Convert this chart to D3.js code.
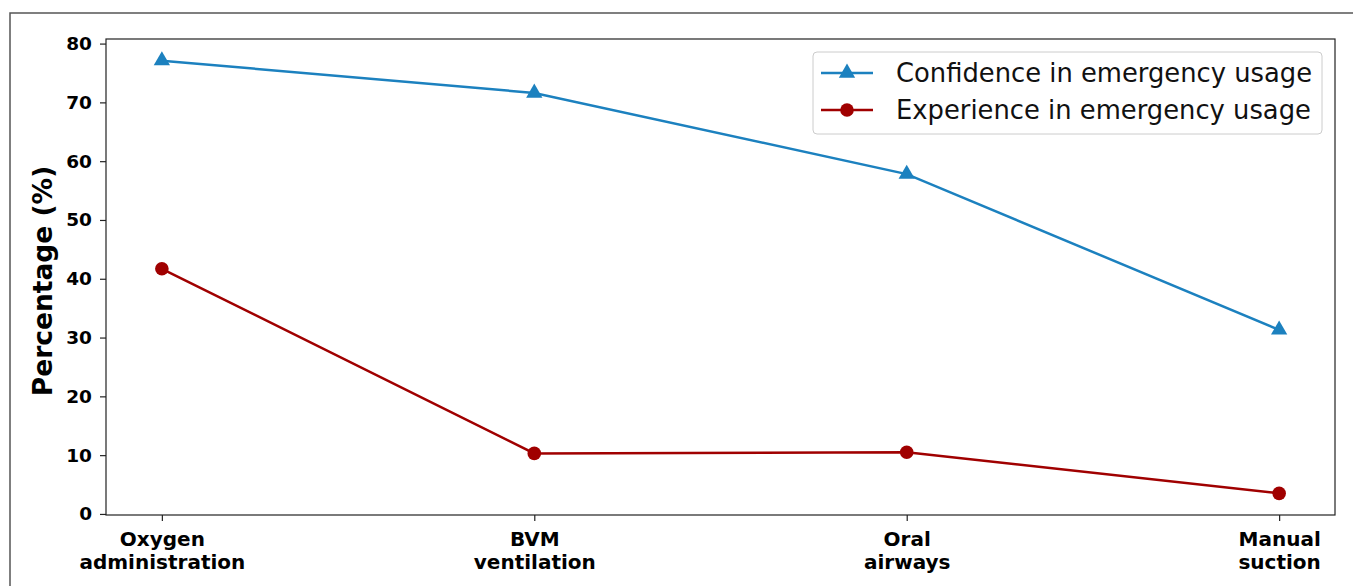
<!DOCTYPE html>
<html>
<head>
<meta charset="utf-8">
<script src="https://cdn.jsdelivr.net/npm/d3@7"></script>
<style>
  body { margin: 0; background: #fff; }
  svg text { font-family: "DejaVu Sans", sans-serif; }
</style>
</head>
<body>
<div id="chart"></div>
<script>
(function(){
// categories and series values (percent)
const categories = [["Oxygen", "administration"], ["BVM", "ventilation"], ["Oral", "airways"], ["Manual", "suction"]];
const confidence = [77.1, 71.6, 57.8, 31.3];
const experience = [41.7, 10.3, 10.5, 3.5];
const yTicks = [0, 10, 20, 30, 40, 50, 60, 70, 80];
const seriesNames = ["Confidence in emergency usage", "Experience in emergency usage"];

const width = 1353, height = 586;
const left = 106, right = 1335, top = 39, bottom = 515;
const blue = "#1c81bf", red = "#a00000";

const svg = d3.select("#chart").append("svg")
    .attr("width", width)
    .attr("height", height);

// outer frame
svg.append("rect")
    .attr("x", 10).attr("y", 13)
    .attr("width", 1400).attr("height", 700)
    .attr("fill", "none").attr("stroke", "#555").attr("stroke-width", 1.5);

// scales, with matplotlib-like 5% margins
const idx = d3.range(categories.length);
const x = d3.scaleLinear().domain([-0.15, categories.length - 1 + 0.15]).range([left, right]);
const allVals = confidence.concat(experience);
const yMin = d3.min(allVals), yMax = d3.max(allVals), pad = (yMax - yMin) * 0.05;
const y = d3.scaleLinear().domain([yMin - pad, yMax + pad]).range([bottom, top]);

// axes
const yAxis = svg.append("g")
    .attr("transform", `translate(${left},0)`)
    .call(d3.axisLeft(y).tickValues(yTicks).tickSize(6).tickPadding(8).tickFormat(d3.format("d")));
const xAxis = svg.append("g")
    .attr("transform", `translate(0,${bottom})`)
    .call(d3.axisBottom(x).tickValues(idx).tickSize(6).tickFormat(""));
[yAxis, xAxis].forEach(a => {
  a.select(".domain").remove();
  a.selectAll(".tick line").attr("stroke", "#222").attr("stroke-width", 1.2);
});
yAxis.selectAll(".tick text")
    .attr("font-size", 18.5).attr("font-weight", "bold").attr("fill", "#000");

// two-line x labels
xAxis.selectAll(".tick").each(function(d) {
  const t = d3.select(this).append("text")
      .attr("text-anchor", "middle")
      .attr("font-size", 20).attr("font-weight", "bold").attr("fill", "#000");
  categories[d].forEach((line, i) => {
    t.append("tspan").attr("x", 0).attr("y", 31 + i * 23).text(line);
  });
});

// axes box
svg.append("rect")
    .attr("x", left).attr("y", top)
    .attr("width", right - left).attr("height", bottom - top)
    .attr("fill", "none").attr("stroke", "#222").attr("stroke-width", 1.2);

// y label
svg.append("text")
    .attr("transform", `translate(52,${(top + bottom) / 2 + 4}) rotate(-90)`)
    .attr("text-anchor", "middle")
    .attr("font-size", 26.5).attr("font-weight", "bold")
    .text("Percentage (%)");

const line = d3.line().x((d, i) => x(i)).y(d => y(d));
const triangle = d3.symbol().type(d3.symbolTriangle).size(115);

// confidence series
svg.append("path").datum(confidence)
    .attr("d", line).attr("fill", "none").attr("stroke", blue).attr("stroke-width", 2.5);
svg.selectAll(".tri").data(confidence).join("path")
    .attr("class", "tri")
    .attr("transform", (d, i) => `translate(${x(i)},${y(d)})`)
    .attr("d", triangle).attr("fill", blue);

// experience series
svg.append("path").datum(experience)
    .attr("d", line).attr("fill", "none").attr("stroke", red).attr("stroke-width", 2.5);
svg.selectAll(".dot").data(experience).join("circle")
    .attr("class", "dot")
    .attr("cx", (d, i) => x(i)).attr("cy", d => y(d))
    .attr("r", 6.8).attr("fill", red);

// legend
const lg = svg.append("g").attr("transform", "translate(813,52)");
lg.append("rect")
    .attr("width", 509).attr("height", 82).attr("rx", 4)
    .attr("fill", "#fff").attr("fill-opacity", 0.8)
    .attr("stroke", "#ccc").attr("stroke-width", 1);
const colors = [blue, red];
seriesNames.forEach((name, i) => {
  const g = lg.append("g").attr("transform", `translate(0,${21 + i * 37})`);
  g.append("line").attr("x1", 8).attr("x2", 60)
      .attr("stroke", colors[i]).attr("stroke-width", 2.5);
  if (i === 0) {
    g.append("path").attr("transform", "translate(34,0)").attr("d", triangle).attr("fill", blue);
  } else {
    g.append("circle").attr("cx", 34).attr("r", 6.8).attr("fill", red);
  }
  g.append("text").attr("x", 83).attr("dy", "0.35em")
      .attr("font-size", 25.8).attr("fill", "#111").text(name);
});
})();
</script>
</body>
</html>
